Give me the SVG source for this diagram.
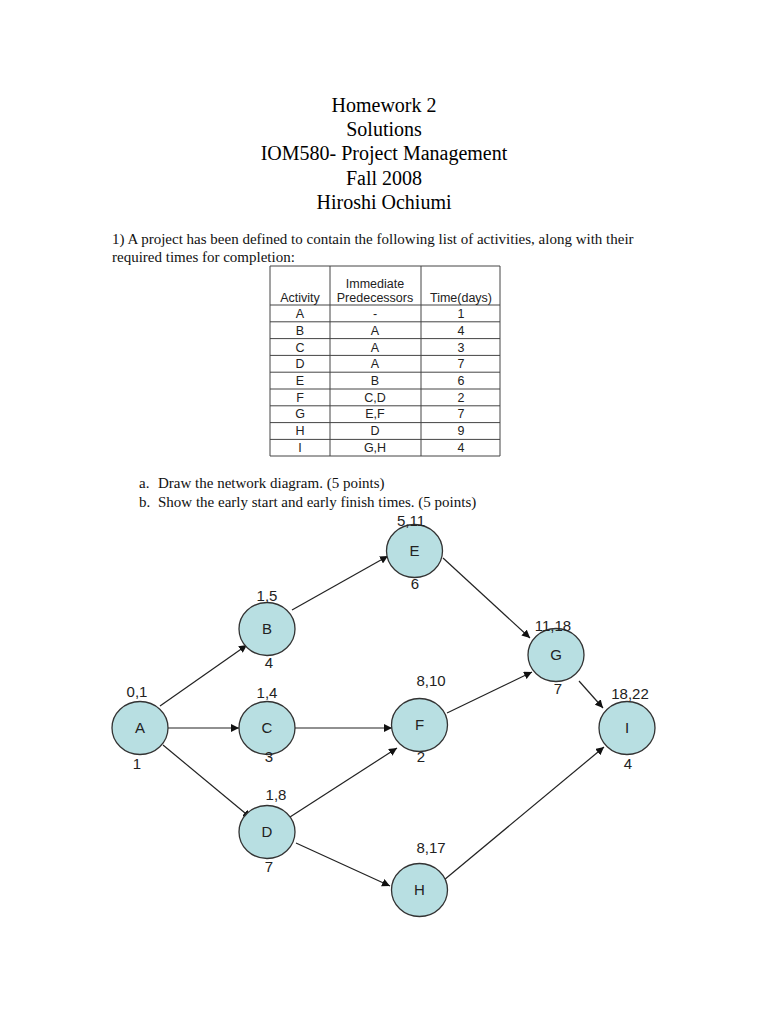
<svg xmlns="http://www.w3.org/2000/svg" width="768" height="1024" viewBox="0 0 768 1024">
<style>
.title{font-family:"Liberation Serif",serif;font-size:20px;fill:#000;text-anchor:middle}
.body{font-family:"Liberation Serif",serif;font-size:15px;fill:#111}
.tb{font-family:"Liberation Sans",Arial,sans-serif;font-size:12.5px;fill:#222;text-anchor:middle}
.node ellipse{fill:#b8dfe2;stroke:#333;stroke-width:1.3}
.nl{font-family:"Liberation Sans",Arial,sans-serif;font-size:15px;fill:#222;text-anchor:middle}
.edge{stroke:#222;stroke-width:1.2;fill:none;marker-end:url(#ah)}
.grid line{stroke:#444;stroke-width:1}
</style>
<defs>
<marker id="ah" viewBox="0 0 10 10" refX="10" refY="5" markerWidth="8" markerHeight="8" markerUnits="userSpaceOnUse" orient="auto">
<path d="M0,0 L10,5 L0,10 z" fill="#111"/>
</marker>
</defs>
<rect width="768" height="1024" fill="#fff"/>
<g id="title">
<text class="title" x="384" y="112">Homework 2</text>
<text class="title" x="384" y="136">Solutions</text>
<text class="title" x="384" y="160">IOM580- Project Management</text>
<text class="title" x="384" y="185">Fall 2008</text>
<text class="title" x="384" y="209">Hiroshi Ochiumi</text>
</g>
<g id="question">
<text class="body" x="112" y="244">1) A project has been defined to contain the following list of activities, along with their</text>
<text class="body" x="112" y="262">required times for completion:</text>
<text class="body" x="139" y="488">a.</text>
<text class="body" x="158" y="488">Draw the network diagram. (5 points)</text>
<text class="body" x="139" y="507">b.</text>
<text class="body" x="158" y="507">Show the early start and early finish times. (5 points)</text>
</g>
<g id="table">
<g class="grid">
<line x1="270" y1="266" x2="500" y2="266"/>
<line x1="270" y1="305" x2="500" y2="305"/>
<line x1="270" y1="321.8" x2="500" y2="321.8"/>
<line x1="270" y1="338.6" x2="500" y2="338.6"/>
<line x1="270" y1="355.4" x2="500" y2="355.4"/>
<line x1="270" y1="372.2" x2="500" y2="372.2"/>
<line x1="270" y1="389" x2="500" y2="389" stroke-width="1.5"/>
<line x1="270" y1="405.8" x2="500" y2="405.8"/>
<line x1="270" y1="422.6" x2="500" y2="422.6"/>
<line x1="270" y1="439.4" x2="500" y2="439.4"/>
<line x1="270" y1="456" x2="500" y2="456"/>
<line x1="270" y1="266" x2="270" y2="456"/>
<line x1="330" y1="266" x2="330" y2="456"/>
<line x1="421" y1="266" x2="421" y2="456"/>
<line x1="500" y1="266" x2="500" y2="456"/>
</g>
<text class="tb" x="300" y="302">Activity</text>
<text class="tb" x="375" y="288">Immediate</text>
<text class="tb" x="375" y="302">Predecessors</text>
<text class="tb" x="461" y="302">Time(days)</text>
<text class="tb" x="300" y="318">A</text><text class="tb" x="375" y="318">-</text><text class="tb" x="461" y="318">1</text>
<text class="tb" x="300" y="335">B</text><text class="tb" x="375" y="335">A</text><text class="tb" x="461" y="335">4</text>
<text class="tb" x="300" y="351.5">C</text><text class="tb" x="375" y="351.5">A</text><text class="tb" x="461" y="351.5">3</text>
<text class="tb" x="300" y="368">D</text><text class="tb" x="375" y="368">A</text><text class="tb" x="461" y="368">7</text>
<text class="tb" x="300" y="385">E</text><text class="tb" x="375" y="385">B</text><text class="tb" x="461" y="385">6</text>
<text class="tb" x="300" y="401.5">F</text><text class="tb" x="375" y="401.5">C,D</text><text class="tb" x="461" y="401.5">2</text>
<text class="tb" x="300" y="418">G</text><text class="tb" x="375" y="418">E,F</text><text class="tb" x="461" y="418">7</text>
<text class="tb" x="300" y="435">H</text><text class="tb" x="375" y="435">D</text><text class="tb" x="461" y="435">9</text>
<text class="tb" x="300" y="452">I</text><text class="tb" x="375" y="452">G,H</text><text class="tb" x="461" y="452">4</text>
</g>
<g id="connectors">
<line class="edge" x1="160" y1="706" x2="247" y2="645"/>
<line class="edge" x1="168" y1="728" x2="239" y2="728"/>
<line class="edge" x1="163" y1="745" x2="251" y2="818"/>
<line class="edge" x1="292" y1="610" x2="388" y2="556"/>
<line class="edge" x1="443" y1="558" x2="530" y2="638"/>
<line class="edge" x1="295" y1="728" x2="392" y2="728"/>
<line class="edge" x1="290" y1="817" x2="397" y2="748"/>
<line class="edge" x1="296" y1="843" x2="390" y2="886"/>
<line class="edge" x1="447" y1="713" x2="532" y2="672"/>
<line class="edge" x1="579" y1="681" x2="603" y2="708"/>
<line class="edge" x1="444" y1="880" x2="604" y2="747"/>
</g>
<g id="node-A" class="node"><ellipse cx="140" cy="728" rx="28" ry="26.5"/><text class="nl" x="140" y="733">A</text><text class="nl" x="137" y="697">0,1</text><text class="nl" x="137" y="769">1</text></g>
<g id="node-B" class="node"><ellipse cx="267" cy="629" rx="28" ry="26.5"/><text class="nl" x="267" y="634">B</text><text class="nl" x="267" y="601">1,5</text><text class="nl" x="269" y="668">4</text></g>
<g id="node-C" class="node"><ellipse cx="267" cy="728" rx="28" ry="26.5"/><text class="nl" x="267" y="733">C</text><text class="nl" x="267" y="698">1,4</text><text class="nl" x="269" y="762">3</text></g>
<g id="node-D" class="node"><ellipse cx="267" cy="832" rx="28" ry="26.5"/><text class="nl" x="267" y="837">D</text><text class="nl" x="276" y="800">1,8</text><text class="nl" x="269" y="872">7</text></g>
<g id="node-E" class="node"><ellipse cx="414.5" cy="551" rx="28" ry="26.5"/><text class="nl" x="414.5" y="556">E</text><text class="nl" x="411" y="526">5,11</text><text class="nl" x="415" y="589">6</text></g>
<g id="node-F" class="node"><ellipse cx="419.5" cy="725" rx="28" ry="26.5"/><text class="nl" x="419.5" y="730">F</text><text class="nl" x="431" y="686">8,10</text><text class="nl" x="421" y="762">2</text></g>
<g id="node-G" class="node"><ellipse cx="556" cy="655" rx="28" ry="26.5"/><text class="nl" x="556" y="660">G</text><text class="nl" x="553" y="631">11,18</text><text class="nl" x="558" y="694">7</text></g>
<g id="node-H" class="node"><ellipse cx="419.5" cy="890" rx="28" ry="26.5"/><text class="nl" x="419.5" y="895">H</text><text class="nl" x="431" y="853">8,17</text></g>
<g id="node-I" class="node"><ellipse cx="627" cy="728" rx="28" ry="26.5"/><text class="nl" x="627" y="733">I</text><text class="nl" x="630" y="699">18,22</text><text class="nl" x="628" y="769">4</text></g>
</svg>
